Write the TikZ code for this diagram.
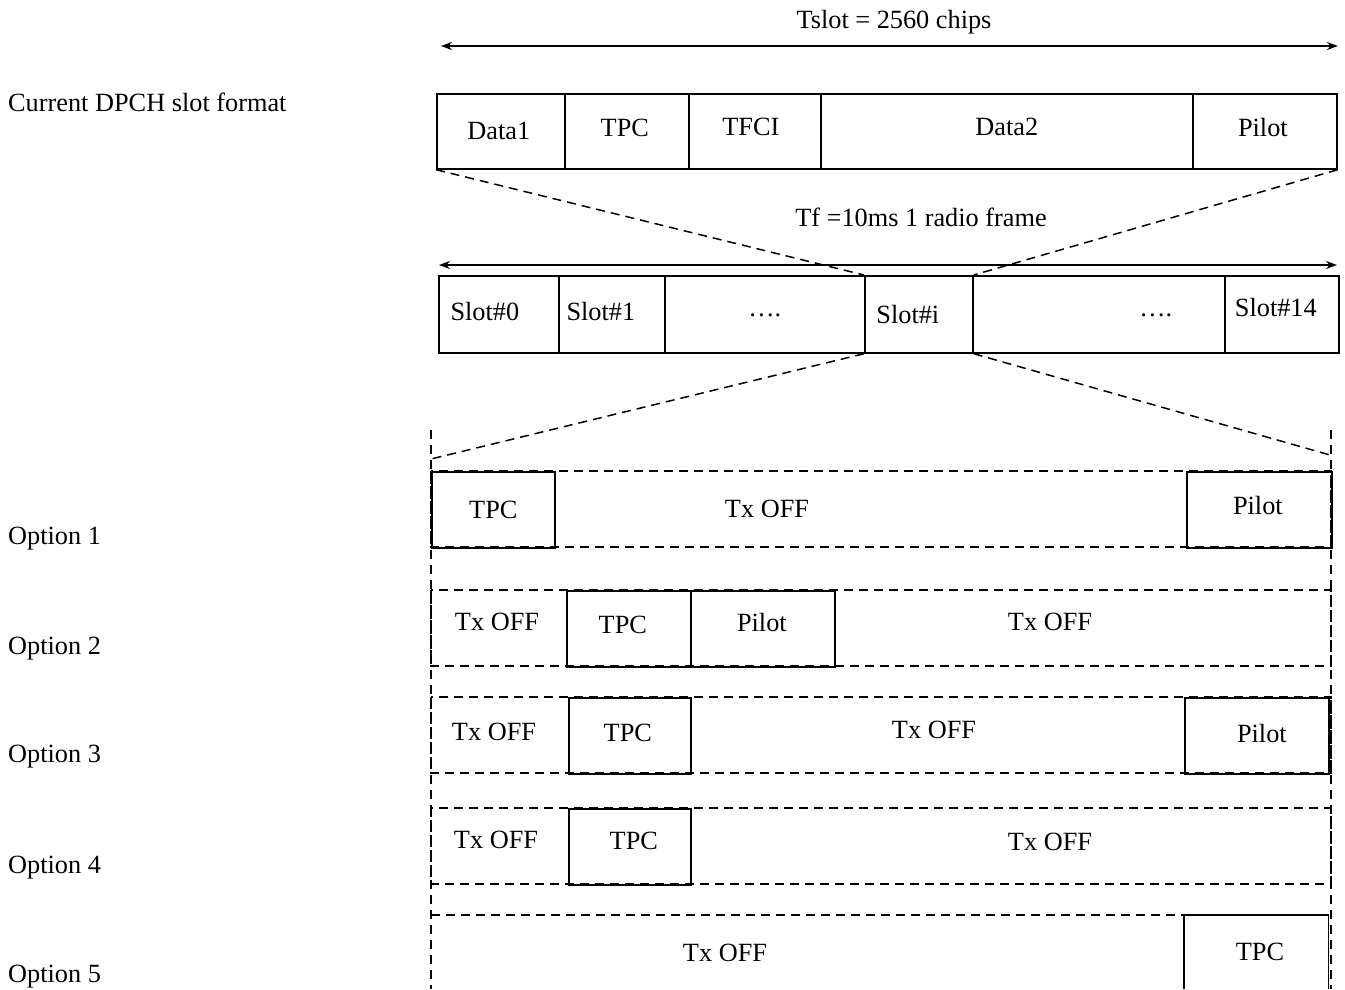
\documentclass[tikz,border=0pt]{standalone}
\usepackage{fontspec}
\setmainfont{Liberation Serif}
\usetikzlibrary{arrows.meta}
\begin{document}
\begin{tikzpicture}[x=1pt,y=-1pt,
  every node/.style={font=\fontsize{26.3}{31}\selectfont, inner sep=0pt},
  every label/.style={font=\fontsize{26.3}{31}\selectfont, inner sep=0pt},
  cell/.style={draw, line width=1.7pt, anchor=north west, minimum height=#1},
  cell/.default=76,
  dsh/.style={dashed, dash pattern=on 9pt off 6pt, line width=1.5pt},
  dim/.style={line width=1.6pt, {Stealth[length=11pt,width=8pt]}-{Stealth[length=11pt,width=8pt]}},
  lbl/.style={anchor=west}]
\useasboundingbox (0,0) rectangle (1345,989);

% left labels
\node[lbl] (lc) at (8,102) {Current DPCH slot format};
\node[lbl] (l1) at (8,539) {Option 1};
\node[lbl] (l2) at (8,649) {Option 2};
\node[lbl] (l3) at (8,757) {Option 3};
\node[lbl] (l4) at (8,868) {Option 4};
\node[lbl] (l5) at (8,977) {Option 5};

% top dimension
\coordinate (a1l) at (441,46);
\coordinate (a1r) at (1338,46);
\draw[dim] (a1l) -- (a1r);
\node (tslot) at (894,22) {Tslot = 2560 chips};

% current slot format
\node[cell=75, minimum width=128, label={[name=d1t, xshift=-2pt]center:Data1}] (d1) at (436,93) {};
\node[cell=75, minimum width=124, label={[name=tpct, xshift=-2pt, yshift=3.5pt]center:TPC}] (tpc) at (564,93) {};
\node[cell=75, minimum width=132, label={[name=tfcit, xshift=-4pt, yshift=4.5pt]center:TFCI}] (tfci) at (688,93) {};
\node[cell=75, minimum width=372, label={[name=d2t, yshift=4.5pt]center:Data2}] (d2) at (820,93) {};
\node[cell=75, minimum width=144, label={[name=pilt, xshift=-2pt, yshift=3.5pt]center:Pilot}] (pil) at (1192,93) {};

% frame dimension
\coordinate (a2l) at (439,265);
\coordinate (a2r) at (1337,265);
\draw[dim] (a2l) -- (a2r);
\node (tf) at (921,217) {Tf =10ms 1 radio frame};

% slot row
\node[cell=77, minimum width=120, label={[name=s0t, xshift=-14pt, yshift=2.5pt]center:Slot\#0}] (s0) at (438,275) {};
\node[cell=77, minimum width=106, label={[name=s1t, xshift=-11pt, yshift=2.5pt]center:Slot\#1}] (s1) at (558,275) {};
\node[cell=77, minimum width=200, label={[name=sd1t, yshift=-1pt]center:\ldots.}] (sd1) at (664,275) {};
\node[cell=77, minimum width=108, label={[name=sit, xshift=-11pt]center:Slot\#i}] (si) at (864,275) {};
\node[cell=77, minimum width=252, label={[name=sd2t, xshift=57pt, yshift=-1pt]center:\ldots.}] (sd2) at (972,275) {};
\node[cell=77, minimum width=114, label={[name=s14t, xshift=-6pt, yshift=6.5pt]center:Slot\#14}] (s14) at (1224,275) {};

% zoom lines
\draw[dsh] (d1.south west) -- (si.north west);
\draw[dsh] (pil.south east) -- (si.north east);
\coordinate (zl) at (431,459);
\coordinate (zr) at (1330,455);
\draw[dsh] (si.south west) -- (zl);
\draw[dsh] (si.south east) -- (zr);

% long vertical dashed guides
\coordinate (vlt) at (431,430);
\coordinate (vlb) at (431,989);
\coordinate (vrt) at (1331,430);
\coordinate (vrb) at (1331,989);
\draw[dsh] (vlt) -- (vlb);
\draw[dsh] (vrt) -- (vrb);

% Option rows (dashed frames)
\draw[dsh] (431,471) rectangle (1331,547);
\draw[dsh] (431,590) rectangle (1331,666);
\draw[dsh] (431,697) rectangle (1331,773);
\draw[dsh] (431,808) rectangle (1331,884);
\draw[dsh] (431,915) -- (1331,915);

% Option 1
\node[cell, minimum width=123, label={[name=o1tt]center:TPC}] (o1t) at (431,471) {};
\node[cell, minimum width=145, label={[name=o1pt, xshift=-1.5pt, yshift=4pt]center:Pilot}] (o1p) at (1186,471) {};
\node (o1x) at (767,509) {Tx OFF};

% Option 2
\node (o2x1) at (497,622) {Tx OFF};
\node[cell, minimum width=124, label={[name=o2tt, xshift=-6pt, yshift=4pt]center:TPC}] (o2t) at (566,590) {};
\node[cell, minimum width=144, label={[name=o2pt, xshift=-1pt, yshift=6pt]center:Pilot}] (o2p) at (690,590) {};
\node (o2x2) at (1050,622) {Tx OFF};

% Option 3
\node (o3x1) at (494,732) {Tx OFF};
\node[cell, minimum width=122, label={[name=o3tt, xshift=-2pt, yshift=3pt]center:TPC}] (o3t) at (568,697) {};
\node (o3x2) at (934,730) {Tx OFF};
\node[cell, minimum width=144, label={[name=o3pt, xshift=5pt, yshift=2pt]center:Pilot}] (o3p) at (1184,697) {};

% Option 4
\node (o4x1) at (496,840) {Tx OFF};
\node[cell, minimum width=122, label={[name=o4tt, xshift=4pt, yshift=6pt]center:TPC}] (o4t) at (568,808) {};
\node (o4x2) at (1050,842) {Tx OFF};

% Option 5
\node (o5x) at (725,953) {Tx OFF};
\node[anchor=north west, minimum width=144, minimum height=74] (o5t) at (1184,915) {};
\node (o5tt) at (1260,952) {TPC};
\draw[line width=1.7pt] (o5t.south west) -- (o5t.north west) -- (o5t.north east) -- (o5t.south east);
\end{tikzpicture}
\end{document}
